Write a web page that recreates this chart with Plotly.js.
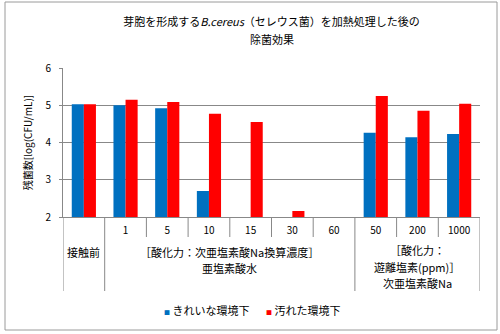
<!DOCTYPE html>
<html><head><meta charset="utf-8">
<script src="https://cdn.plot.ly/plotly-3.0.1.min.js"></script>
<style>body{margin:0;padding:0;background:#fff}#chart{width:500px;height:334px}</style>
</head><body><div id="chart"></div>
<script>
// ---- data ----
const categories = ['接触前','1','5','10','15','30','60','50','200','1000'];
const tickLabels = ['','1','5','10','15','30','60','50','200','1000'];
const cleanValues = [5.03, 5.00, 4.92, 2.70, null, null, null, 4.26, 4.14, 4.23];
const dirtyValues = [5.03, 5.15, 5.09, 4.77, 4.55, 2.16, null, 5.25, 4.85, 5.04];
const seriesNames = ['きれいな環境下','汚れた環境下'];
const groupStarts = [0, 1, 7];
const groupEnds = [0, 6, 9];
const groupLines = [['接触前'], ['［酸化力：次亜塩素酸Na換算濃度］','亜塩素酸水'], ['［酸化力：','遊離塩素(ppm)］','次亜塩素酸Na']];
const yTitle = '残菌数[log(CFU/mL)]';
const titleLines = ['芽胞を形成する<i>B.cereus</i>（セレウス菌）を加熱処理した後の', '除菌効果'];

// ---- layout helpers ----
const W = 500, H = 334, L = 63, R = 20, T = 68, B = 117;
const plotH = H - T - B, plotW = W - L - R;
const py = p => (H - B - p) / plotH;   // pixel y -> paper y
const px = p => (p - L) / plotW;        // pixel x -> paper x
const FONT = '"Noto Sans CJK JP", "Noto Sans", sans-serif';
const BLUE = '#0070C0', RED = '#FF0000', GRID = '#888888';
const seriesColors = [BLUE, RED];

const shapes = [];
// category boundaries (ticks + group separators)
for (let i = 0; i <= categories.length; i++) {
  const isGroupEdge = groupStarts.includes(i) || i === categories.length;
  shapes.push({type:'line', xref:'x', yref:'paper', x0:i-0.5, x1:i-0.5,
    y0:0, y1: isGroupEdge ? py(291) : py(237),
    line:{color:GRID, width:1}});
}
// outer border
shapes.push({type:'rect', xref:'paper', yref:'paper', x0:px(5), x1:px(497), y0:py(330), y1:py(2),
  line:{color:'#9a9a9a', width:1}, fillcolor:'rgba(0,0,0,0)'});

const annotations = [];
const groupLineY = [[252], [251.5, 267.5], [250, 266.5, 283]];
groupLines.forEach((lines, g) => {
  const cx = (groupStarts[g] + groupEnds[g]) / 2;
  lines.forEach((t, k) => {
    annotations.push({xref:'x', yref:'paper', x:cx, y:py(groupLineY[g][k]), text:t,
      showarrow:false, xanchor:'center', yanchor:'middle', font:{family:FONT, size:11, color:'#000'}});
  });
});
// second title line
annotations.push({xref:'paper', yref:'paper', x:0.5, y:py(39), xanchor:'center', yanchor:'middle',
  showarrow:false, text:titleLines[1], font:{family:FONT, size:11, color:'#000'}});
// legend entries
const legendX = [162, 264];
seriesNames.forEach((n, s) => {
  annotations.push({xref:'paper', yref:'paper', x:px(legendX[s]), y:py(310), xanchor:'left', yanchor:'middle',
    showarrow:false, text:'<span style="color:'+seriesColors[s]+';font-size:6px">■</span> '+n,
    font:{family:FONT, size:11, color:'#000'}});
});

const traces = [
  {type:'bar', name:seriesNames[0], x:categories, y:cleanValues, marker:{color:BLUE}},
  {type:'bar', name:seriesNames[1], x:categories, y:dirtyValues, marker:{color:RED}}
];

const layout = {
  width:W, height:H, margin:{l:L, r:R, t:T, b:B, pad:0},
  paper_bgcolor:'#fff', plot_bgcolor:'#fff', showlegend:false,
  font:{family:FONT, size:10, color:'#000'},
  title:{text:titleLines[0], x:0.5, xref:'paper', xanchor:'center', y:1-22/H, yref:'container', yanchor:'middle',
    font:{family:FONT, size:11, color:'#000'}},
  barmode:'group', bargap:0.42, bargroupgap:0,
  xaxis:{type:'category', categoryorder:'array', categoryarray:categories,
    tickmode:'array', tickvals:categories, ticktext:tickLabels,
    showgrid:false, showline:true, linecolor:GRID, linewidth:1, ticks:'', ticklabelstandoff:4,
    tickfont:{family:FONT, size:10, color:'#000'}, range:[-0.5, categories.length-0.5], fixedrange:true, zeroline:false},
  yaxis:{range:[2,6], dtick:1, tick0:2, showgrid:true, gridcolor:GRID, gridwidth:1,
    showline:true, linecolor:GRID, linewidth:1, ticks:'outside', ticklen:3, tickcolor:GRID,
    ticklabelstandoff:6, tickfont:{family:FONT, size:10, color:'#000'}, zeroline:false,
    title:{text:yTitle, standoff:10, font:{family:FONT, size:10, color:'#000'}}},
  shapes:shapes, annotations:annotations
};
Plotly.newPlot('chart', traces, layout, {displayModeBar:false, staticPlot:true});
</script></body></html>
